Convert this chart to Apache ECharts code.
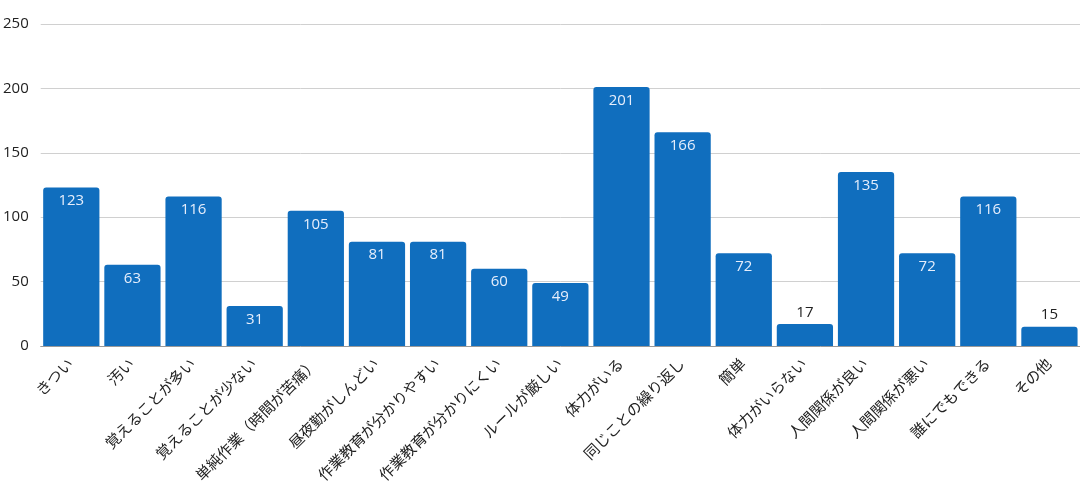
<!DOCTYPE html>
<html><head><meta charset="utf-8">
<script src="https://cdn.jsdelivr.net/npm/echarts@6/dist/echarts.min.js"></script>
<style>html,body{margin:0;padding:0;background:#fff}#c{width:1080px;height:500px}</style>
</head><body><div id="c"></div>
<script>
const categories = ["きつい","汚い","覚えることが多い","覚えることが少ない","単純作業（時間が苦痛）","昼夜勤がしんどい","作業教育が分かりやすい","作業教育が分かりにくい","ルールが厳しい","体力がいる","同じことの繰り返し","簡単","体力がいらない","人間関係が良い","人間関係が悪い","誰にでもできる","その他"];
const values = [123,63,116,31,105,81,81,60,49,201,166,72,17,135,72,116,15];
const yTicks = {min:0,max:250,interval:50};

const chart = echarts.init(document.getElementById('c'));
const font = "'Open Sans','Noto Sans CJK JP',sans-serif";
chart.setOption({
  animation:false,
  grid:{left:40,right:0,top:24,bottom:154,containLabel:false},
  xAxis:{type:'category',data:categories,
    axisLine:{lineStyle:{color:'#999'}},axisTick:{show:false},
    axisLabel:{rotate:45,interval:0,color:'#222',fontSize:15,fontFamily:font,margin:16}},
  yAxis:{type:'value',min:yTicks.min,max:yTicks.max,interval:yTicks.interval,
    axisLabel:{color:'#222',fontSize:15,fontFamily:font,margin:12},
    splitLine:{lineStyle:{color:'#d0d0d0'}},axisLine:{show:false},axisTick:{show:false}},
  series:[{type:'bar',barCategoryGap:'8%',
    data:values.map(v=>({value:v,label: v<25?{position:'top',color:'#222',distance:4}:{}})),
    itemStyle:{color:'#106ebe',borderRadius:[3,3,0,0]},
    label:{show:true,position:'insideTop',distance:6,color:'#e6eefc',fontSize:15,fontFamily:font}
  }]
});
</script></body></html>
